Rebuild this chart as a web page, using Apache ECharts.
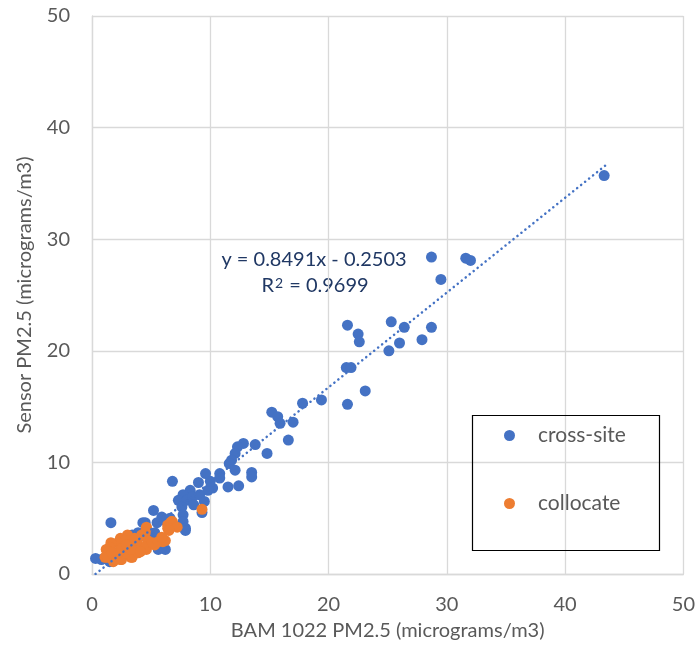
<!DOCTYPE html>
<html>
<head>
<meta charset="utf-8">
<script src="https://cdn.jsdelivr.net/npm/echarts@6/dist/echarts.min.js"></script>
<style>
  html, body { margin: 0; padding: 0; background: #fff; }
  #main { width: 698px; height: 652px; }
</style>
</head>
<body>
<div id="main"></div>
<script>
// data
var crossSite = [
  [43.3, 35.7], [28.7, 28.4], [31.6, 28.3], [32.0, 28.1], [29.5, 26.4],
  [21.6, 22.3], [25.3, 22.6], [26.4, 22.1], [28.7, 22.1], [22.5, 21.5],
  [22.6, 20.8], [27.9, 21.0], [26.0, 20.7], [25.1, 20.0], [21.5, 18.5],
  [21.9, 18.5], [23.1, 16.4], [21.6, 15.2], [19.4, 15.6], [17.8, 15.3],
  [15.2, 14.5], [15.7, 14.1], [15.9, 13.5], [17.0, 13.6], [16.6, 12.0],
  [12.8, 11.7], [12.3, 11.4], [13.8, 11.6], [14.8, 10.8], [12.1, 10.8],
  [11.8, 10.2], [11.6, 9.9], [12.1, 9.3], [13.5, 9.1], [13.5, 8.7],
  [10.8, 9.0], [10.8, 8.6], [9.6, 9.0], [6.8, 8.3], [9.0, 8.2],
  [10.2, 7.7], [11.5, 7.8], [12.4, 7.9], [9.8, 7.5], [8.3, 7.5],
  [7.7, 7.1], [7.3, 6.6], [8.0, 6.6], [8.5, 6.9], [9.1, 7.1],
  [9.5, 6.5], [7.6, 6.0], [7.7, 5.3], [9.3, 5.5], [5.2, 5.7],
  [5.9, 5.1], [7.7, 4.7], [7.9, 4.1], [7.9, 3.9], [6.2, 4.8],
  [5.5, 4.6], [4.5, 4.6], [1.6, 4.6], [4.3, 4.6], [3.9, 3.7],
  [4.5, 3.4], [5.3, 3.7], [5.2, 3.2], [3.4, 3.5], [4.7, 3.3],
  [5.6, 2.2], [6.2, 2.2], [5.9, 2.4], [5.5, 2.8], [0.3, 1.4],
  [0.8, 1.3], [1.9, 1.9], [1.5, 1.1], [2.5, 1.6], [3.0, 2.0],
  [6.6, 5.0], [8.6, 6.2], [10.0, 8.3]
];
var collocate = [
  [9.3, 5.8], [6.8, 4.7], [6.4, 4.4], [6.7, 4.7], [6.4, 4.1],
  [7.2, 4.2], [6.5, 3.9], [4.6, 4.1], [4.6, 4.2], [4.5, 3.7],
  [3.0, 3.5], [2.4, 3.2], [2.8, 3.0], [2.2, 2.8], [1.6, 2.8],
  [1.5, 2.4], [1.2, 2.2], [1.4, 2.0], [1.1, 1.5], [1.3, 1.5],
  [1.8, 1.1], [2.4, 1.3], [1.9, 1.3], [2.5, 1.3], [3.3, 1.5],
  [3.4, 1.5], [3.9, 1.9], [4.6, 2.2], [5.3, 2.6], [6.0, 2.9],
  [4.7, 3.0], [3.9, 2.6], [3.6, 2.3], [4.5, 2.4], [5.1, 2.8],
  [5.6, 2.9], [6.2, 3.0], [5.9, 3.3], [2.0, 1.9], [2.8, 1.9],
  [2.2, 1.9], [3.2, 2.6], [3.8, 3.0], [2.5, 2.3], [1.7, 1.9],
  [4.2, 3.5], [3.3, 2.2], [2.9, 2.6], [4.1, 2.0], [3.6, 3.2]
];
// trendline ends (linear fit of cross-site)
var trendLine = [[0.3, 0.0], [43.4, 36.6]];
var equationText = 'y = 0.8491x - 0.2503';
var r2Text = 'R{sup|2} = 0.9699';
var seriesNames = ['cross-site', 'collocate'];
var xTicks = [0, 10, 20, 30, 40, 50];
var yTicks = [0, 10, 20, 30, 40, 50];

var chart = echarts.init(document.getElementById('main'), null, { renderer: 'canvas' });

var font = 'Lato, "Open Sans", sans-serif';
var labelGray = '#595959';
var gridGray = '#d9d9d9';
var eqColor = '#203864';

var option = {
  animation: false,
  textStyle: { fontFamily: font },
  color: ['#4472C4', '#ED7D31'],
  grid: { left: 92, right: 14, top: 16, bottom: 78 },
  xAxis: {
    type: 'value',
    min: xTicks[0],
    max: xTicks[xTicks.length - 1],
    interval: 10,
    name: 'BAM 1022 PM2.5 (micrograms/m3)',
    nameLocation: 'middle',
    nameGap: 47,
    nameTextStyle: { color: labelGray, fontSize: 20, fontFamily: font },
    axisLine: { show: true, lineStyle: { color: gridGray, width: 1.3 } },
    axisTick: { show: false },
    axisLabel: { color: labelGray, fontSize: 20, margin: 21, fontFamily: font },
    splitLine: { show: true, lineStyle: { color: gridGray, width: 1.3 } }
  },
  yAxis: {
    type: 'value',
    min: yTicks[0],
    max: yTicks[yTicks.length - 1],
    interval: 10,
    name: 'Sensor PM2.5 (micrograms/m3)',
    nameLocation: 'middle',
    nameGap: 57,
    nameTextStyle: { color: labelGray, fontSize: 20, fontFamily: font },
    axisLine: { show: true, lineStyle: { color: gridGray, width: 1.3 } },
    axisTick: { show: false },
    axisLabel: { color: labelGray, fontSize: 20, margin: 22, fontFamily: font },
    splitLine: { show: true, lineStyle: { color: gridGray, width: 1.3 } }
  },
  legend: {
    orient: 'vertical',
    left: 499,
    top: 420,
    itemWidth: 11,
    itemHeight: 11,
    itemGap: 47,
    icon: 'circle',
    textStyle: { color: labelGray, fontSize: 21, fontFamily: font, padding: [0, 0, 0, 18] },
    data: seriesNames
  },
  series: [
    {
      name: seriesNames[0],
      type: 'scatter',
      data: crossSite,
      symbolSize: 11,
      z: 2,
      itemStyle: { color: '#4472C4', opacity: 1 }
    },
    {
      name: seriesNames[1],
      type: 'scatter',
      data: collocate,
      symbolSize: 11,
      z: 3,
      itemStyle: { color: '#ED7D31', opacity: 1 }
    },
    {
      name: 'trend',
      type: 'line',
      data: trendLine,
      symbol: 'none',
      silent: true,
      z: 4,
      lineStyle: { color: '#4472C4', width: 2.5, type: [0.1, 5], cap: 'round' }
    }
  ],
  graphic: [
    {
      type: 'rect',
      left: 470,
      top: 413,
      shape: { width: 187, height: 135 },
      style: { fill: 'none', stroke: '#000', lineWidth: 1.2 },
      z: 1
    },
    {
      type: 'text',
      x: 314,
      y: 260,
      style: { text: equationText, fill: eqColor, font: '20px ' + font, align: 'center', verticalAlign: 'middle' }
    },
    {
      type: 'text',
      x: 315,
      y: 286,
      style: {
        text: r2Text,
        fill: eqColor,
        font: '20px ' + font,
        align: 'center',
        verticalAlign: 'middle',
        rich: {
          sup: { fontSize: 14, fill: eqColor, fontFamily: font, verticalAlign: 'top', padding: [0, 1, 6, 1] }
        }
      }
    }
  ]
};

chart.setOption(option);
</script>
</body>
</html>
